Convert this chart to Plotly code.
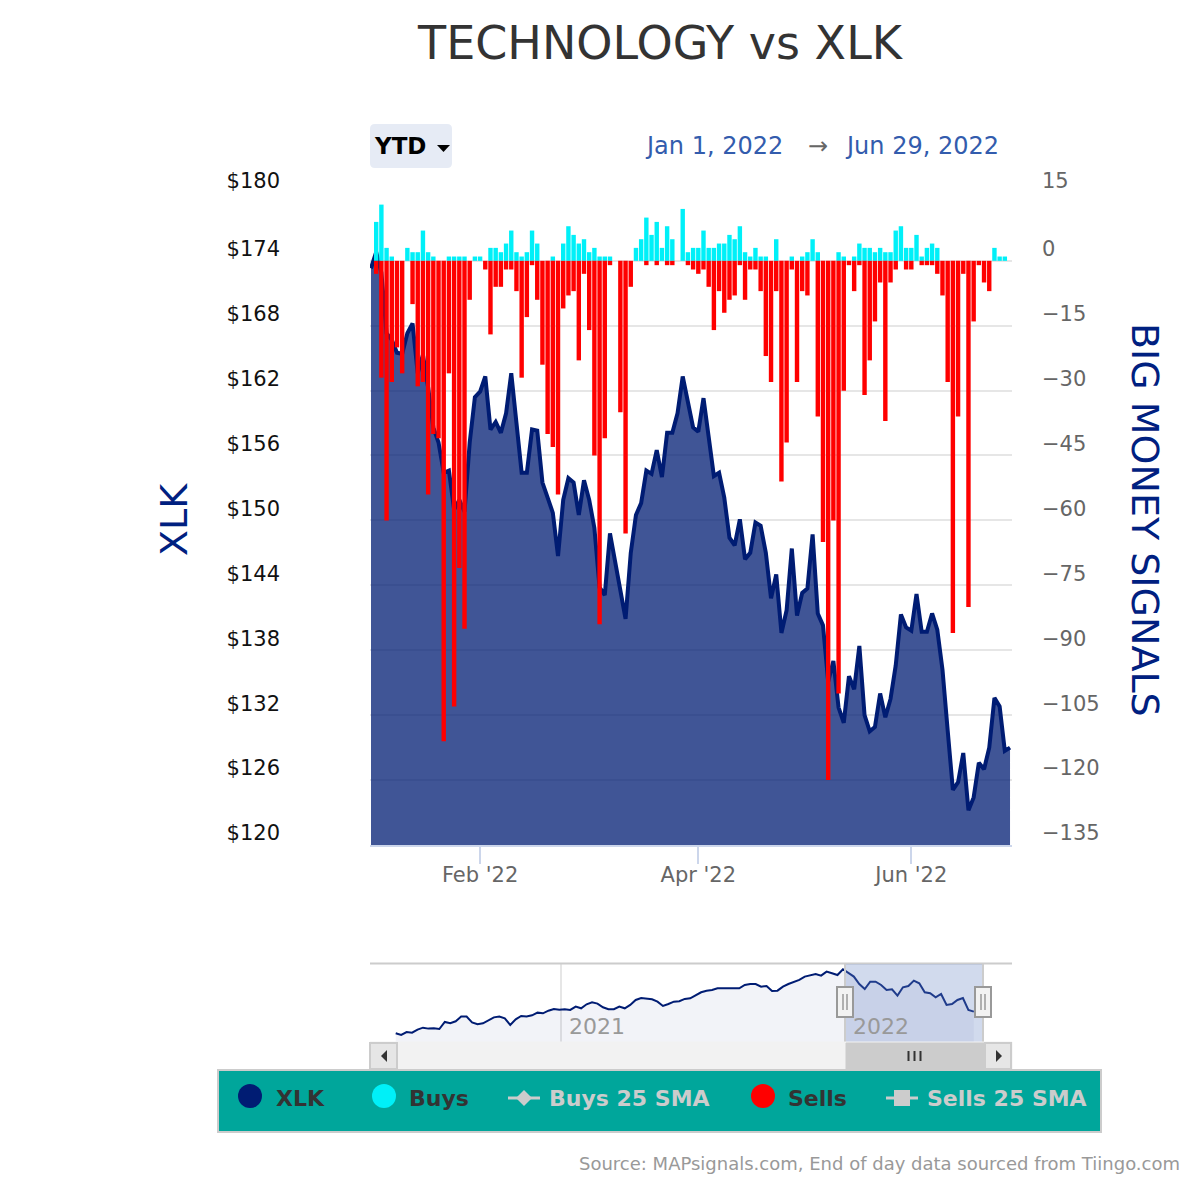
import pandas as pd
import plotly.graph_objects as go

W, H = 1200, 1180
FONT = "DejaVu Sans"

title_text = "TECHNOLOGY vs XLK"
holidays = ["2022-01-17", "2022-02-21", "2022-04-15", "2022-05-30", "2022-06-20"]
dates = ["2021-12-31"] + [d.strftime("%Y-%m-%d") for d in pd.bdate_range("2022-01-03", "2022-06-29")
                          if d.strftime("%Y-%m-%d") not in holidays]

xlk = [173.3, 174.8, 172.9, 167.3, 166.7, 165.5, 165.4, 167.3, 168.2, 163.6,
       165.3, 162.3, 158.6, 157.2, 154.4, 154.6, 151.0, 151.9, 150.8, 157.2,
       161.4, 161.9, 163.3, 158.4, 159.1, 158.1, 159.9, 163.6, 159.0, 154.4,
       154.4, 158.4, 158.3, 153.5, 152.1, 150.7, 146.7, 151.9, 153.9, 153.5,
       150.5, 153.7, 151.9, 149.3, 143.8, 143.1, 148.8, 146.2, 143.6, 140.9,
       147.0, 150.5, 151.6, 154.6, 154.3, 156.5, 154.0, 158.1, 158.1, 159.9,
       163.3, 161.1, 158.6, 158.2, 161.3, 157.7, 154.1, 154.4, 152.1, 148.4,
       147.7, 150.1, 146.4, 147.0, 149.8, 149.5, 147.0, 142.8, 145.0, 139.6,
       141.7, 147.4, 141.2, 143.3, 143.7, 148.7, 141.4, 140.3, 135.1, 137.0,
       132.7, 131.3, 135.6, 134.4, 138.4, 132.0, 130.5, 130.9, 134.0, 131.8,
       133.5, 136.6, 141.3, 140.1, 139.8, 143.2, 139.7, 139.7, 141.4, 139.9,
       136.2, 130.6, 125.1, 125.8, 128.5, 123.2, 124.4, 127.6, 127.0, 129.0,
       133.6, 132.8, 128.7, 129.0]

buys = [0, 9, 13, 3, 1, 0, 0, 3, 2, 2, 7, 2, 1, 0, 0, 1, 1, 1, 1, 0,
        1, 1, 0, 3, 3, 2, 4, 7, 2, 1, 2, 7, 4, 0, 0, 1, 0, 4, 8, 6,
        4, 5, 2, 3, 1, 1, 1, 0, 0, 0, 0, 3, 5, 10, 6, 9, 3, 8, 5, 0,
        12, 2, 3, 3, 7, 3, 3, 4, 4, 6, 5, 8, 2, 1, 3, 1, 1, 0, 5, 0,
        0, 1, 0, 1, 2, 5, 2, 0, 0, 0, 2, 1, 0, 1, 4, 3, 3, 2, 3, 2,
        2, 7, 8, 3, 3, 6, 1, 3, 4, 3, 0, 0, 0, 0, 0, 0, 0, 0, 0, 0,
        3, 1, 1, 0]

sells = [0, -3, -27, -60, -28, -20, -26, 0, -10, -29, -28, -54, -40, -41, -111, -26, -103, -71, -85, -9,
         0, 0, -2, -17, -6, -6, -2, -2, -7, -27, -13, -1, -9, -24, -40, -43, -54, -11, -8, -7,
         -23, -3, -16, -45, -84, -41, -1, 0, -35, -63, -6, 0, 0, -1, 0, -1, 0, -1, -1, 0,
         0, -1, -2, -3, -2, -6, -16, -7, -12, -9, -8, -1, -9, -2, -2, -7, -22, -28, -7, -51,
         -42, -2, -28, -7, -8, 0, -36, -65, -120, -60, -100, -30, -1, -7, -1, -31, -23, -14, -5, -37,
         -5, -2, 0, -2, -2, 0, -1, -1, -1, -3, -8, -28, -86, -36, -3, -80, -14, -1, -5, -7,
         0, 0, 0, 0]

# Navigator: weekly closes from June 2020
nav_values = [106.3, 104.5, 107.7, 107.0, 110.2, 112.3, 111.3, 111.6, 110.9, 118.4,
              117.0, 119.1, 124.1, 124.1, 118.0, 115.9, 117.0, 119.8, 123.3, 124.1,
              122.3, 115.2, 121.2, 124.8, 124.1, 125.5, 128.3, 127.6, 130.4, 132.2,
              131.5, 131.9, 131.2, 134.7, 132.9, 137.2, 139.3, 137.9, 134.0, 131.9,
              131.9, 134.7, 132.9, 136.5, 141.8, 143.9, 143.6, 142.5, 140.0, 135.4,
              137.5, 140.0, 140.4, 142.9, 143.6, 146.4, 150.0, 151.7, 152.4, 154.2,
              154.2, 154.9, 154.2, 154.2, 157.8, 158.8, 158.8, 156.0, 156.7, 151.4,
              151.7, 156.0, 158.8, 160.6, 163.1, 166.7, 168.4, 169.5, 167.7, 172.0,
              170.2, 168.4, 174.5, 170.2, 166.7, 158.8, 153.5, 161.3, 161.3, 157.8,
              152.4, 153.2, 146.4, 155.3, 156.7, 162.4, 159.5, 150.0, 148.9, 144.6,
              148.2, 136.5, 137.5, 141.8, 143.9, 131.2, 129.4]
nav_dates = [d.strftime("%Y-%m-%d") for d in pd.date_range("2020-06-03", periods=len(nav_values), freq="7D")]

assert len(dates) == len(xlk) == len(buys) == len(sells)

PRICE_RANGE = [120, 180.26]
SIGNAL_RANGE = [-135, 15.68]
price_ticks = [120, 126, 132, 138, 144, 150, 156, 162, 168, 174, PRICE_RANGE[1]]
price_labels = ["$120", "$126", "$132", "$138", "$144", "$150", "$156", "$162", "$168", "$174", "$180"]
signal_ticks = [-135, -120, -105, -90, -75, -60, -45, -30, -15, 0, SIGNAL_RANGE[1]]
signal_labels = ["−135", "−120", "−105", "−90", "−75", "−60", "−45", "−30", "−15", "0", "15"]
month_ticks = ["2022-02-01", "2022-04-01", "2022-06-01"]
month_labels = ["Feb '22", "Apr '22", "Jun '22"]

NAVY = "#001C73"


def px(x):
    return x / W


def py(y):
    return 1 - y / H


fig = go.Figure()
fig.add_trace(go.Scatter(x=dates, y=xlk, name="XLK", mode="lines", fill="tozeroy",
                         fillcolor="rgba(0,28,115,0.75)", line=dict(color=NAVY, width=4),
                         xaxis="x", yaxis="y", hoverinfo="skip"))
fig.add_trace(go.Bar(x=dates, y=buys, name="Buys", marker=dict(color="#00F0F8", line=dict(width=0)),
                     width=0.85, xaxis="x", yaxis="y2", hoverinfo="skip"))
fig.add_trace(go.Bar(x=dates, y=sells, name="Sells", marker=dict(color="#FF0000", line=dict(width=0)),
                     width=0.85, xaxis="x", yaxis="y2", hoverinfo="skip"))
fig.add_trace(go.Scatter(x=nav_dates, y=nav_values, mode="lines", fill="tozeroy",
                         fillcolor="rgba(0,28,115,0.05)", line=dict(color=NAVY, width=2),
                         xaxis="x2", yaxis="y3", hoverinfo="skip"))

shapes = []


def rect(x0, y0, x1, y1, fill, line=None, lw=1, layer="above"):
    shapes.append(dict(type="rect", xref="paper", yref="paper", x0=px(x0), x1=px(x1), y0=py(y0), y1=py(y1),
                       fillcolor=fill, line=dict(color=line or fill, width=lw if line else 0), layer=layer))


def poly(points, fill, line=None, lw=0):
    d = "M " + " L ".join(f"{px(a):.5f},{py(b):.5f}" for a, b in points) + " Z"
    shapes.append(dict(type="path", xref="paper", yref="paper", path=d, fillcolor=fill,
                       line=dict(color=line or fill, width=lw), layer="above"))


def seg(x0, y0, x1, y1, color, lw=2):
    shapes.append(dict(type="line", xref="paper", yref="paper", x0=px(x0), x1=px(x1), y0=py(y0), y1=py(y1),
                       line=dict(color=color, width=lw), layer="above"))


def dot(cx, cy, r, color):
    shapes.append(dict(type="circle", xref="paper", yref="paper", x0=px(cx - r), x1=px(cx + r),
                       y0=py(cy + r), y1=py(cy - r), fillcolor=color, line=dict(width=0), layer="above"))


def round_rect(x0, y0, x1, y1, r, fill):
    def p(a, b):
        return f"{px(a):.5f},{py(b):.5f}"
    d = (f"M {p(x0 + r, y0)} L {p(x1 - r, y0)} Q {p(x1, y0)} {p(x1, y0 + r)} L {p(x1, y1 - r)} "
         f"Q {p(x1, y1)} {p(x1 - r, y1)} L {p(x0 + r, y1)} Q {p(x0, y1)} {p(x0, y1 - r)} "
         f"L {p(x0, y0 + r)} Q {p(x0, y0)} {p(x0 + r, y0)} Z")
    shapes.append(dict(type="path", xref="paper", yref="paper", path=d, fillcolor=fill,
                       line=dict(width=0), layer="above"))


# YTD button
round_rect(370, 124, 452, 168, 5, "#E6EBF5")
poly([(437, 145), (450, 145), (443.5, 152)], "#000000")

# Navigator chrome
seg(370, 963.5, 1012, 963.5, "#CCCCCC", 2)
rect(845, 964, 983, 1042, "rgba(102,133,194,0.3)")
seg(845, 964, 845, 1042, "#CCCCCC", 2)
seg(983, 964, 983, 1042, "#CCCCCC", 2)
# Scrollbar
rect(370, 1042, 1012, 1069, "#F2F2F2", "#F2F2F2", 1)
rect(370, 1043, 397, 1069, "#E6E6E6", "#CCCCCC", 2)
rect(985, 1043, 1011, 1069, "#E6E6E6", "#CCCCCC", 2)
rect(846, 1043, 984, 1070, "#CCCCCC", "#CCCCCC", 1)
poly([(387, 1050), (387, 1062), (381, 1056)], "#333333")
poly([(996, 1050), (996, 1062), (1002, 1056)], "#333333")
for lx in (908.5, 914.5, 920.5):
    seg(lx, 1051, lx, 1061, "#333333", 2)
# Navigator handles
for hx in (845, 983):
    rect(hx - 8, 987, hx + 8, 1017, "#F2F2F2", "#999999", 2)
    seg(hx - 2, 994, hx - 2, 1010, "#999999", 1.5)
    seg(hx + 2, 994, hx + 2, 1010, "#999999", 1.5)

# Legend panel
rect(218, 1070, 1101, 1132, "#00A69B", "#CCCCCC", 2)
dot(250, 1096, 12, NAVY)
dot(384, 1096, 12, "#00F0F8")
dot(763, 1096, 12, "#FF0000")
seg(508, 1098, 540, 1098, "#CCCCCC", 3)
poly([(524, 1090), (532, 1098), (524, 1106), (516, 1098)], "#CCCCCC")
seg(886, 1098, 918, 1098, "#CCCCCC", 3)
rect(894, 1090, 910, 1106, "#CCCCCC")

annotations = []


def text(x, y, s, size, color, anchor="left", weight="normal", angle=0):
    annotations.append(dict(xref="paper", yref="paper", x=px(x), y=py(y), text=s, showarrow=False,
                            xanchor=anchor, yanchor="middle", textangle=angle,
                            font=dict(family=FONT, size=size, color=color, weight=weight)))


text(372, 146, "YTD", 23, "#000000", weight="bold")
text(643, 146, "Jan 1, 2022", 24, "#335CAD")
text(806, 146, "→", 24, "#666666")
text(843, 146, "Jun 29, 2022", 24, "#335CAD")
text(174, 520, "XLK", 38, "#002080", anchor="center", angle=-90)
text(1145, 520, "BIG MONEY SIGNALS", 38, "#002080", anchor="center", angle=90)
text(274, 1098, "XLK", 22, "#333333", weight="bold")
text(407, 1098, "Buys", 22, "#333333", weight="bold")
text(547, 1098, "Buys 25 SMA", 22, "#CCCCCC", weight="bold")
text(786, 1098, "Sells", 22, "#333333", weight="bold")
text(925, 1098, "Sells 25 SMA", 22, "#CCCCCC", weight="bold")
text(1182, 1163, "Source: MAPsignals.com, End of day data sourced from Tiingo.com", 18, "#999999", anchor="right")
for yr in ("2021-01-01", "2022-01-01"):
    annotations.append(dict(xref="x2", yref="paper", x=yr, y=py(1026), text=yr[:4], showarrow=False,
                            xanchor="left", yanchor="middle", xshift=6,
                            font=dict(family=FONT, size=22, color="#999999")))

fig.update_layout(
    width=W, height=H, autosize=False,
    margin=dict(l=0, r=0, t=0, b=0, autoexpand=False),
    paper_bgcolor="white", plot_bgcolor="white",
    showlegend=False, barmode="overlay", hovermode=False,
    title=dict(text=title_text, x=660 / W, xanchor="center", y=py(43), yanchor="middle",
               font=dict(family=FONT, size=46, color="#333333"), automargin=False),
    xaxis=dict(type="category", domain=[px(370), px(1012)], range=[-0.19, 123.38], anchor="y",
               tickmode="array", tickvals=month_ticks, ticktext=month_labels, automargin=False,
               showgrid=False, showline=True, linecolor="#CCD6EB", linewidth=2,
               ticks="outside", ticklen=17, tickwidth=2, tickcolor="#CCD6EB", ticklabelstandoff=-7,
               tickfont=dict(family=FONT, size=21, color="#666666"), fixedrange=True),
    yaxis=dict(domain=[py(845), py(193)], range=PRICE_RANGE, anchor="x", automargin=False,
               tickmode="array", tickvals=price_ticks, ticktext=price_labels,
               showgrid=True, gridcolor="#E6E6E6", gridwidth=2, zeroline=False, showline=False,
               ticks="", ticklabelstandoff=89, ticklabelshift=-12,
               tickfont=dict(family=FONT, size=21, color="#111111"), fixedrange=True),
    yaxis2=dict(overlaying="y", side="right", range=SIGNAL_RANGE, anchor="x", automargin=False,
                tickmode="array", tickvals=signal_ticks, ticktext=signal_labels,
                showgrid=False, zeroline=False, showline=False,
                ticks="", ticklabelstandoff=29, ticklabelshift=-12,
                tickfont=dict(family=FONT, size=21, color="#666666"), fixedrange=True),
    xaxis2=dict(type="date", domain=[px(370), px(1012)], range=["2020-05-01", "2022-08-03"], anchor="y3",
                automargin=False, tickmode="array", tickvals=["2021-01-01", "2022-01-01"], showticklabels=False,
                showgrid=True, gridcolor="#E6E6E6", gridwidth=2, showline=False, ticks="", zeroline=False,
                fixedrange=True),
    yaxis3=dict(domain=[py(1042), py(964)], range=[97.05, 180.1], anchor="x2", showgrid=False, automargin=False,
                showticklabels=False, zeroline=False, showline=False, ticks="", fixedrange=True),
    shapes=shapes, annotations=annotations,
)

fig.write_html("out.html", config=dict(displayModeBar=False),
               post_script="document.body.style.margin='0';document.documentElement.style.overflow='hidden';")
